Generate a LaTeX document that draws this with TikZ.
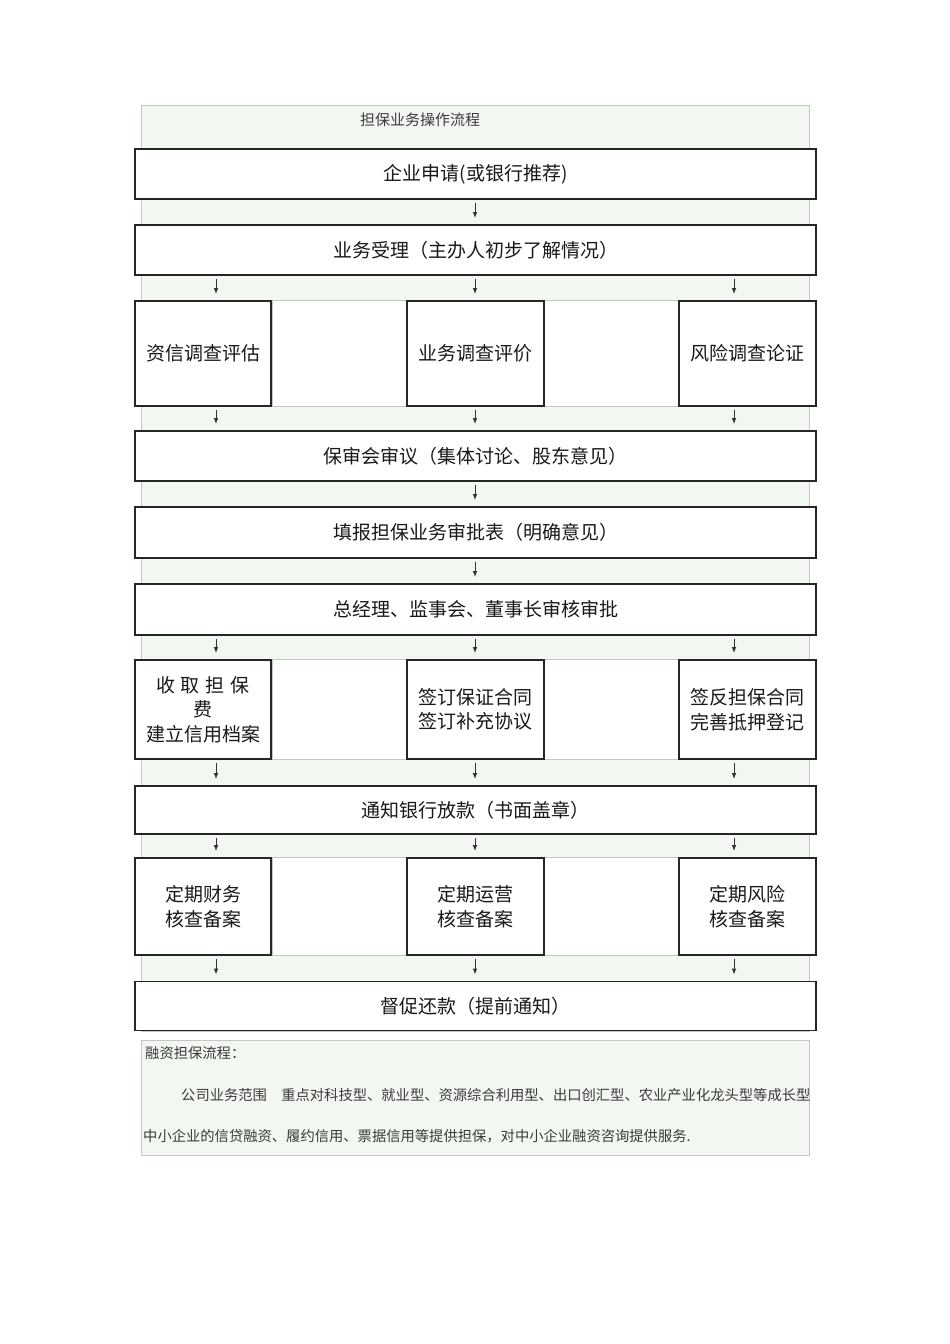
\documentclass[tikz,border=0pt]{standalone}
\usepackage{fontspec}
\setmainfont{Noto Sans CJK SC}
\usetikzlibrary{shapes,
                arrows.meta,
                positioning,
                backgrounds}
\definecolor{panelgreen}{HTML}{F3F7F2}
\definecolor{panelline}{HTML}{C4C6C4}
\definecolor{textgray}{HTML}{3A3A3A}
\tikzset{block/.style =
   {rectangle,
    draw=black!85,
    line width=1.6pt,
    fill=white,
    text=black!90,
    text centered,
    align=center,
    inner sep=0pt,
    minimum width=681pt,
    minimum height=50pt,
    font=\fontsize{19pt}{24.5pt}\selectfont}}
\tikzset{smallblock/.style =
   {block,
    minimum width=136.5pt}}
\tikzset{gapcell/.style =
   {draw=panelline,
    line width=0.8pt,
    fill=white}}
\tikzset{note/.style =
   {anchor=west,
    inner sep=0pt,
    text=textgray,
    font=\fontsize{14.3pt}{16pt}\selectfont}}
\tikzset{arrow/.style = {draw, black!80, line width=1pt, -{Latex[length=6pt, width=4.5pt]}}}

\begin{document}
\begin{tikzpicture}[x=1pt, y=-1pt]

    \useasboundingbox (0,0) rectangle (950,1344);

    \node [anchor=west, inner sep=0pt, text=textgray,
           font=\fontsize{15pt}{16pt}\selectfont] (title) at (360,120) {担保业务操作流程};

    \node [block] (shenqing) at (475.5,174) {企业申请(或银行推荐)};
    \node [block] (shouli) at (475.5,250) {业务受理（主办人初步了解情况）};

    \node [smallblock, minimum height=105pt] (zixin) at (203,353.5) {资信调查评估};
    \node [smallblock, minimum height=105pt] (yewudc) at (475.5,353.5) {业务调查评价};
    \node [smallblock, minimum height=105pt] (fengxian) at (747.5,353.5) {风险调查论证};

    \node [block] (shenyi) at (475.5,456) {保审会审议（集体讨论、股东意见）};
    \node [block, minimum height=51pt] (tianbao) at (475.5,532.5) {填报担保业务审批表（明确意见）};
    \node [block, minimum height=51pt] (zongjingli) at (475.5,609.5) {总经理、监事会、董事长审核审批};

    \node [smallblock, minimum height=99pt] (shoufei) at (203,709.5)
          {收\hspace{6pt}取\hspace{6pt}担\hspace{6pt}保\\费\\建立信用档案};
    \node [smallblock, minimum height=99pt] (qianding) at (475.5,709.5) {签订保证合同\\签订补充协议};
    \node [smallblock, minimum height=99pt] (fandanbao) at (747.5,709.5) {签反担保合同\\完善抵押登记};

    \node [block, minimum height=48pt] (tongzhi) at (475.5,810) {通知银行放款（书面盖章）};

    \node [smallblock, minimum height=97pt] (caiwu) at (203,906.5) {定期财务\\核查备案};
    \node [smallblock, minimum height=97pt] (yunying) at (475.5,906.5) {定期运营\\核查备案};
    \node [smallblock, minimum height=97pt] (fengxianhc) at (747.5,906.5) {定期风险\\核查备案};

    \node [block, minimum height=49pt] (duncu) at (475.5,1006) {督促还款（提前通知）};

    % columns of the arrows
    \coordinate (colL) at (216,0);
    \coordinate (colM) at (475,0);
    \coordinate (colR) at (734,0);

    \foreach \a/\b in {shenqing/shouli, shenyi/tianbao, tianbao/zongjingli}
        \draw [arrow] ([yshift=-3pt]\a.south -| colM) -- ([yshift=6pt]\b.north -| colM);

    \foreach \a/\b in {shouli/zixin, zixin/shenyi, zongjingli/shoufei,
                       shoufei/tongzhi, tongzhi/caiwu, caiwu/duncu}
        \foreach \c in {colL, colM, colR}
            \draw [arrow] ([yshift=-3pt]\a.south -| \c) -- ([yshift=6pt]\b.north -| \c);

    % notes below the chart
    \node [note] (notehead) at (145,1053) {融资担保流程：};
    \node [note] (noteone) at (181,1095)
          {公司业务范围　重点对科技型、就业型、资源综合利用型、出口创汇型、农业产业化龙头型等成长型};
    \node [note] (notetwo) at (143,1136)
          {中小企业的信贷融资、履约信用、票据信用等提供担保，对中小企业融资咨询提供服务.};

    \begin{scope}[on background layer]
        \draw [panelline, fill=panelgreen, line width=0.8pt] (141,105) rectangle (809,1031);
        \draw [panelline, fill=panelgreen, line width=0.8pt] (141,1040) rectangle (809,1155);
        \draw [gapcell] (zixin.north east) rectangle (yewudc.south west);
        \draw [gapcell] (yewudc.north east) rectangle (fengxian.south west);
        \draw [gapcell] (shoufei.north east) rectangle (qianding.south west);
        \draw [gapcell] (qianding.north east) rectangle (fandanbao.south west);
        \draw [gapcell] (caiwu.north east) rectangle (yunying.south west);
        \draw [gapcell] (yunying.north east) rectangle (fengxianhc.south west);
    \end{scope}

\end{tikzpicture}
\end{document}
